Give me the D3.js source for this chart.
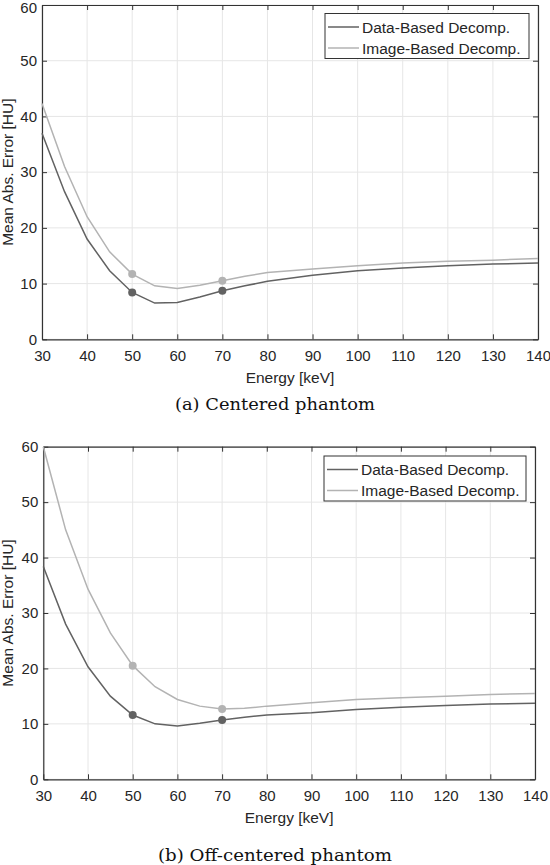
<!DOCTYPE html>
<html>
<head>
<meta charset="utf-8">
<script src="https://cdn.jsdelivr.net/npm/d3@7"></script>
<style>
  body { margin: 0; background: #fff; }
  svg { display: block; }
  .tick text { font-family: "Liberation Sans", Arial, sans-serif; font-size: 15px; fill: #262626; }
</style>
</head>
<body>
<svg id="chart" width="550" height="865"></svg>
<script>
// energies (keV)
const energies = [30, 35, 40, 45, 50, 55, 60, 65, 70, 75, 80, 90, 100, 110, 120, 130, 140];

// (a) centered phantom
const centeredData = [37.0, 26.5, 18.0, 12.3, 8.4, 6.5, 6.6, 7.6, 8.7, 9.6, 10.4, 11.5, 12.3, 12.8, 13.2, 13.5, 13.7];
const centeredImage = [42.3, 31.0, 22.0, 15.7, 11.7, 9.6, 9.1, 9.7, 10.5, 11.3, 12.0, 12.6, 13.2, 13.7, 14.0, 14.2, 14.5];

// (b) off-centered phantom
const offData = [38.4, 28.0, 20.3, 15.0, 11.6, 10.0, 9.6, 10.1, 10.7, 11.2, 11.6, 12.0, 12.6, 13.0, 13.3, 13.6, 13.7];
const offImage = [60.0, 45.0, 34.3, 26.4, 20.5, 16.7, 14.4, 13.2, 12.7, 12.8, 13.2, 13.8, 14.4, 14.7, 15.0, 15.3, 15.5];

// marked energies
const markers = [50, 70];

const xTicks = [30, 40, 50, 60, 70, 80, 90, 100, 110, 120, 130, 140];
const yTicks = [0, 10, 20, 30, 40, 50, 60];
const seriesNames = ["Data-Based Decomp.", "Image-Based Decomp."];
const captions = ["(a) Centered phantom", "(b) Off-centered phantom"];

const darkColor = "#626262";
const lightColor = "#b3b3b3";
const axisColor = "#333";
const font = "'Liberation Sans', Arial, sans-serif";

const svg = d3.select("#chart");

function drawPanel(cfg) {
  const x = d3.scaleLinear().domain([30, 140]).range([cfg.left, cfg.right]);
  const y = d3.scaleLinear().domain([0, 60]).range([cfg.bottom, cfg.top]);
  const g = svg.append("g");

  // grid
  g.append("g")
    .selectAll("line")
    .data(xTicks)
    .join("line")
    .attr("x1", (d) => x(d))
    .attr("x2", (d) => x(d))
    .attr("y1", cfg.top)
    .attr("y2", cfg.bottom)
    .attr("stroke", "#e6e6e6");
  g.append("g")
    .selectAll("line")
    .data(yTicks)
    .join("line")
    .attr("x1", cfg.left)
    .attr("x2", cfg.right)
    .attr("y1", (d) => y(d))
    .attr("y2", (d) => y(d))
    .attr("stroke", "#e6e6e6");

  // axes (inward ticks, box on all sides)
  const bottomAxis = g.append("g")
    .attr("transform", `translate(0,${cfg.bottom})`)
    .call(d3.axisBottom(x).tickValues(xTicks).tickSizeInner(-5).tickSizeOuter(0).tickPadding(11));
  const leftAxis = g.append("g")
    .attr("transform", `translate(${cfg.left},0)`)
    .call(d3.axisLeft(y).tickValues(yTicks).tickSizeInner(-5).tickSizeOuter(0).tickPadding(5));
  const topAxis = g.append("g")
    .attr("transform", `translate(0,${cfg.top})`)
    .call(d3.axisTop(x).tickValues(xTicks).tickSizeInner(-5).tickSizeOuter(0).tickFormat(""));
  const rightAxis = g.append("g")
    .attr("transform", `translate(${cfg.right},0)`)
    .call(d3.axisRight(y).tickValues(yTicks).tickSizeInner(-5).tickSizeOuter(0).tickFormat(""));
  [bottomAxis, leftAxis, topAxis, rightAxis].forEach((a) => {
    a.selectAll("path, line").attr("stroke", axisColor);
    a.select(".domain").attr("stroke-width", 1.2);
  });
  // keep the top label of the upper panel inside the page
  if (cfg.top < 8) {
    leftAxis.selectAll(".tick text").filter((d) => d === 60).attr("dy", "0.52em");
  }

  // lines
  const line = d3.line().x((d) => x(d[0])).y((d) => y(d[1]));
  const series = [
    { values: cfg.data, color: darkColor },
    { values: cfg.image, color: lightColor },
  ];
  series.forEach((s) => {
    const pts = energies.map((e, i) => [e, s.values[i]]);
    g.append("path")
      .datum(pts)
      .attr("fill", "none")
      .attr("stroke", s.color)
      .attr("stroke-width", 1.5)
      .attr("d", line);
    g.selectAll(null)
      .data(pts.filter((p) => markers.includes(p[0])))
      .join("circle")
      .attr("cx", (d) => x(d[0]))
      .attr("cy", (d) => y(d[1]))
      .attr("r", 4)
      .attr("fill", s.color);
  });

  // axis labels
  g.append("text")
    .attr("x", (cfg.left + cfg.right) / 2)
    .attr("y", cfg.bottom + 44)
    .attr("text-anchor", "middle")
    .style("font-family", font)
    .style("font-size", "15.5px")
    .attr("fill", "#262626")
    .text("Energy [keV]");
  g.append("text")
    .attr("transform", `translate(13,${(cfg.top + cfg.bottom) / 2}) rotate(-90)`)
    .attr("text-anchor", "middle")
    .style("font-family", font)
    .style("font-size", "15.5px")
    .attr("fill", "#262626")
    .text("Mean Abs. Error [HU]");

  // legend
  const lg = g.append("g");
  lg.append("rect")
    .attr("x", cfg.legX)
    .attr("y", cfg.legY)
    .attr("width", cfg.legW)
    .attr("height", 45)
    .attr("fill", "#fff")
    .attr("stroke", axisColor);
  [darkColor, lightColor].forEach((c, i) => {
    const ry = cfg.legY + 13.5 + i * 21;
    lg.append("line")
      .attr("x1", cfg.legX + 3)
      .attr("x2", cfg.legX + 34)
      .attr("y1", ry)
      .attr("y2", ry)
      .attr("stroke", c)
      .attr("stroke-width", 1.5);
    lg.append("text")
      .attr("x", cfg.legX + 37)
      .attr("y", ry + 5.5)
      .style("font-family", font)
      .style("font-size", "15.5px")
      .attr("fill", "#262626")
      .text(seriesNames[i]);
  });

  // caption
  g.append("text")
    .attr("x", 275)
    .attr("y", cfg.capY)
    .attr("text-anchor", "middle")
    .attr("textLength", cfg.capW)
    .attr("lengthAdjust", "spacingAndGlyphs")
    .style("font-family", "'DejaVu Serif', serif")
    .style("font-size", "17.5px")
    .attr("fill", "#111")
    .text(cfg.caption);
}

drawPanel({
  left: 42, right: 538, top: 5, bottom: 339.3,
  data: centeredData, image: centeredImage,
  legX: 325, legY: 13.5, legW: 204,
  capY: 410, capW: 200, caption: captions[0],
});

drawPanel({
  left: 43.3, right: 535, top: 446.7, bottom: 779.3,
  data: offData, image: offImage,
  legX: 324, legY: 456, legW: 202,
  capY: 861, capW: 234, caption: captions[1],
});
</script>
</body>
</html>
